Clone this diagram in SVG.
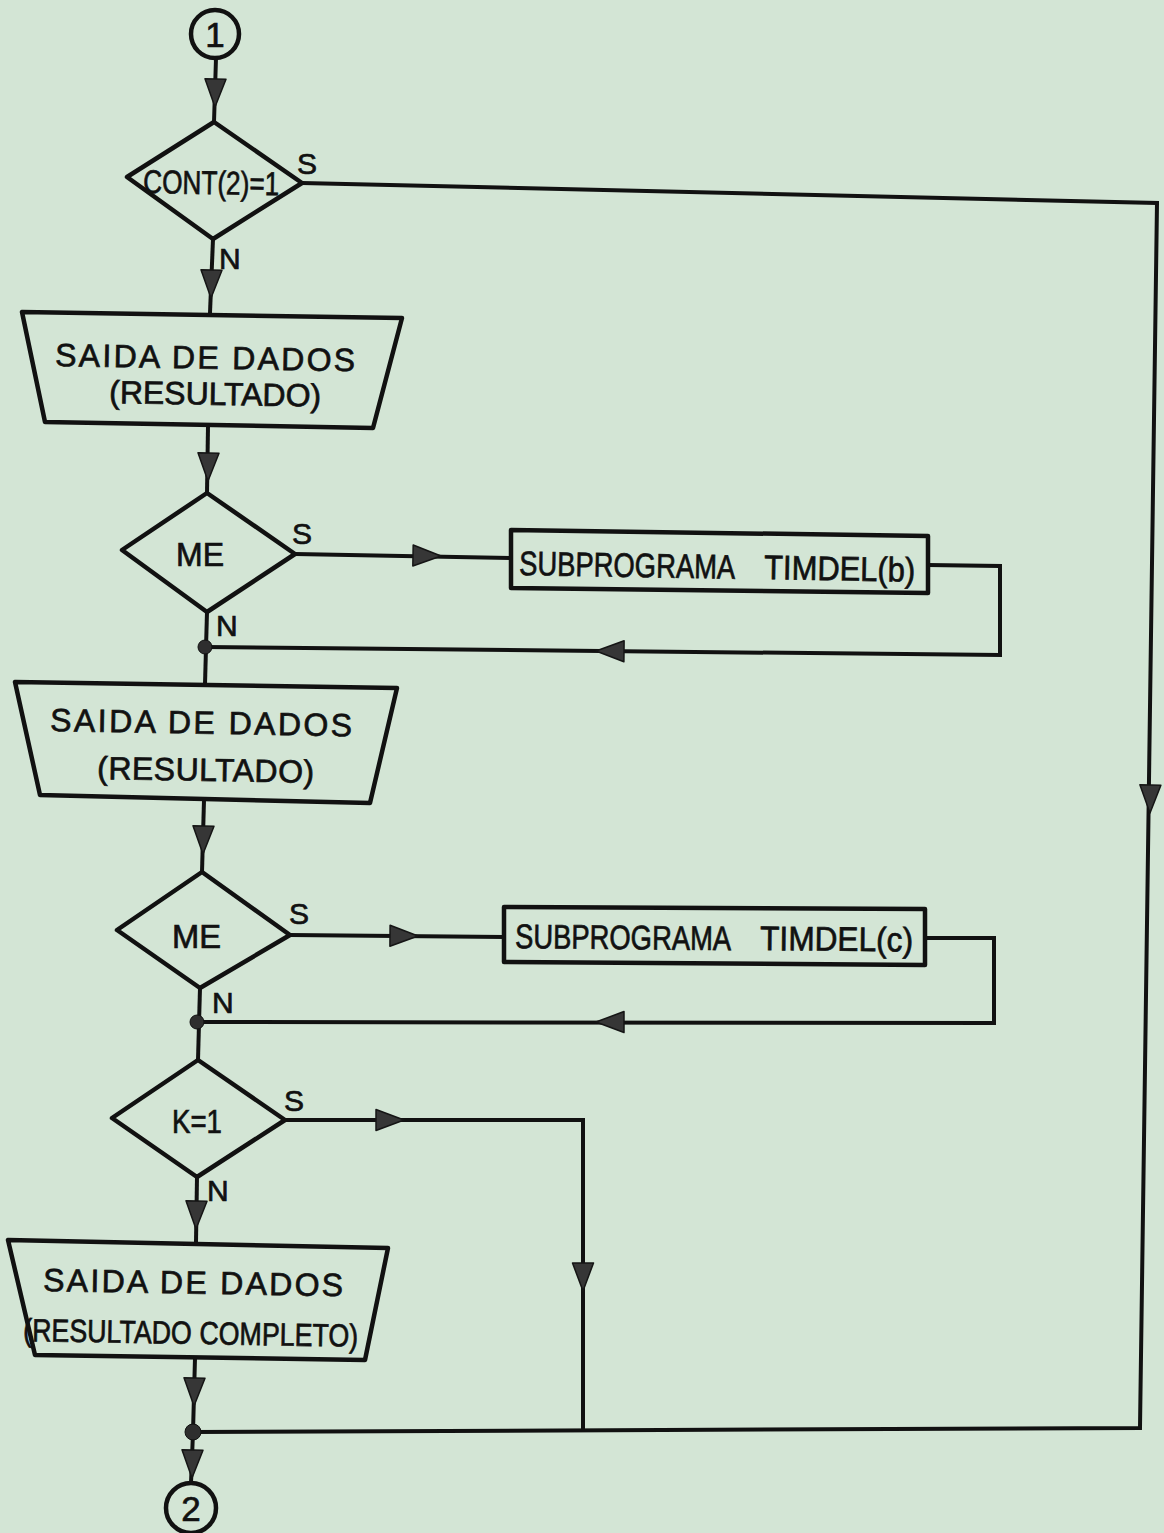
<svg xmlns="http://www.w3.org/2000/svg" xmlns:xlink="http://www.w3.org/1999/xlink" width="1164" height="1533" viewBox="0 0 1164 1533">
  <style>
    .shape { fill: none; stroke: #111; stroke-width: 4.5; stroke-linejoin: round; }
    .wire { fill: none; stroke: #111; stroke-width: 4; stroke-linejoin: miter; }
    .head { fill: #363636; stroke: #151515; stroke-width: 1.5; stroke-linejoin: round; }
    .dot { fill: #2e2e2e; stroke: #111; stroke-width: 1; }
    .txt { font-family: "Liberation Sans", Arial, sans-serif; fill: #111; stroke: #111; stroke-width: 0.7; }
    .big { font-size: 32px; }
    .sub { font-size: 34px; }
    .lbl { font-size: 30px; }
  </style>
  <defs>
    <!-- filled arrowhead, tip at origin, pointing along +x -->
    <path id="ah" class="head" d="M0,0 L-28,-10.5 L-28,10.5 Z"/>
  </defs>

  <rect x="0" y="0" width="1164" height="1533" fill="#d3e5d5"/>

  <!-- connectors -->
  <g id="connectors">
    <path class="wire" d="M216,58 L214,122"/>
    <path class="wire" d="M213,239 L210,313"/>
    <path class="wire" d="M302,183 L1157,203 L1140,1428 L193,1432"/>
    <path class="wire" d="M208,426 L207,493"/>
    <path class="wire" d="M295,554 L511,558"/>
    <path class="wire" d="M928,565 L1000,566 L1000,655 L205,647"/>
    <path class="wire" d="M207,612 L205,684"/>
    <path class="wire" d="M204,800 L202,872"/>
    <path class="wire" d="M290,935 L504,937"/>
    <path class="wire" d="M925,938 L994,938 L994,1023 L197,1022"/>
    <path class="wire" d="M200,988 L198,1060"/>
    <path class="wire" d="M197,1177 L196,1242"/>
    <path class="wire" d="M285,1120 L583,1120 L583,1431"/>
    <path class="wire" d="M195,1358 L193,1432 L191,1483"/>

    <use xlink:href="#ah" transform="translate(215,107) rotate(91)"/>
    <use xlink:href="#ah" transform="translate(211,298) rotate(91)"/>
    <use xlink:href="#ah" transform="translate(208,481) rotate(91)"/>
    <use xlink:href="#ah" transform="translate(441,556) rotate(1)"/>
    <use xlink:href="#ah" transform="translate(596,651) rotate(180.6)"/>
    <use xlink:href="#ah" transform="translate(203,854) rotate(91)"/>
    <use xlink:href="#ah" transform="translate(418,936) rotate(0.5)"/>
    <use xlink:href="#ah" transform="translate(596,1022) rotate(180)"/>
    <use xlink:href="#ah" transform="translate(196,1229) rotate(91)"/>
    <use xlink:href="#ah" transform="translate(404,1120)"/>
    <use xlink:href="#ah" transform="translate(583,1291) rotate(90)"/>
    <use xlink:href="#ah" transform="translate(1150,813) rotate(90.8)"/>
    <use xlink:href="#ah" transform="translate(194,1406) rotate(91)"/>
    <use xlink:href="#ah" transform="translate(192,1478) rotate(91)"/>

    <circle class="dot" cx="205" cy="647" r="7"/>
    <circle class="dot" cx="197" cy="1022" r="7"/>
    <circle class="dot" cx="193" cy="1432" r="8"/>

    <!-- branch labels -->
    <text class="txt lbl" x="297" y="174">S</text>
    <text class="txt lbl" x="219" y="269">N</text>
    <text class="txt lbl" x="292" y="544">S</text>
    <text class="txt lbl" x="216" y="636">N</text>
    <text class="txt lbl" x="289" y="924">S</text>
    <text class="txt lbl" x="212" y="1013">N</text>
    <text class="txt lbl" x="284" y="1111">S</text>
    <text class="txt lbl" x="207" y="1201">N</text>
  </g>

  <!-- connector 1 (entry) -->
  <g id="entry-1">
    <circle class="shape" cx="215" cy="34" r="24"/>
    <text class="txt" x="215" y="47" font-size="35" text-anchor="middle">1</text>
  </g>

  <!-- decision CONT(2)=1 -->
  <g id="dec-cont2">
    <path class="shape" d="M214,122 L302,183 L213,239 L127,177 Z"/>
    <text class="txt" x="143" y="193" font-size="33" textLength="136" lengthAdjust="spacingAndGlyphs" transform="rotate(1 143 193)">CONT(2)=1</text>
  </g>

  <!-- output 1 -->
  <g id="out-1">
    <path class="shape" d="M22,312 L402,318 L373,428 L45,422 Z"/>
    <text class="txt big" x="55" y="366" textLength="300" lengthAdjust="spacing" transform="rotate(1 55 366)">SAIDA DE DADOS</text>
    <text class="txt big" x="109" y="403" textLength="212" lengthAdjust="spacing" transform="rotate(1 109 403)">(RESULTADO)</text>
  </g>

  <!-- decision ME (b) -->
  <g id="dec-me-b">
    <path class="shape" d="M207,493 L295,554 L207,612 L122,550 Z"/>
    <text class="txt" x="176" y="566" font-size="33" textLength="48" lengthAdjust="spacingAndGlyphs">ME</text>
  </g>

  <!-- subprogram TIMDEL(b) -->
  <g id="sub-timdel-b">
    <path class="shape" d="M511,530 L928,536 L928,593 L511,588 Z"/>
    <text class="txt sub" x="519" y="575" textLength="216" lengthAdjust="spacingAndGlyphs" transform="rotate(1 519 575)">SUBPROGRAMA</text>
    <text class="txt sub" x="764" y="579" textLength="151" lengthAdjust="spacingAndGlyphs" transform="rotate(1 764 579)">TIMDEL(b)</text>
  </g>

  <!-- output 2 -->
  <g id="out-2">
    <path class="shape" d="M15,682 L397,688 L370,803 L40,795 Z"/>
    <text class="txt big" x="50" y="731" textLength="302" lengthAdjust="spacing" transform="rotate(1 50 731)">SAIDA DE DADOS</text>
    <text class="txt big" x="97" y="779" textLength="217" lengthAdjust="spacing" transform="rotate(1 97 779)">(RESULTADO)</text>
  </g>

  <!-- decision ME (c) -->
  <g id="dec-me-c">
    <path class="shape" d="M202,872 L290,935 L200,988 L117,930 Z"/>
    <text class="txt" x="172" y="948" font-size="33" textLength="49" lengthAdjust="spacingAndGlyphs">ME</text>
  </g>

  <!-- subprogram TIMDEL(c) -->
  <g id="sub-timdel-c">
    <path class="shape" d="M504,907 L925,909 L925,965 L504,962 Z"/>
    <text class="txt sub" x="515" y="948" textLength="216" lengthAdjust="spacingAndGlyphs" transform="rotate(0.6 515 948)">SUBPROGRAMA</text>
    <text class="txt sub" x="760" y="950" textLength="153" lengthAdjust="spacingAndGlyphs" transform="rotate(0.6 760 950)">TIMDEL(c)</text>
  </g>

  <!-- decision K=1 -->
  <g id="dec-k1">
    <path class="shape" d="M198,1060 L285,1120 L197,1177 L112,1118 Z"/>
    <text class="txt" x="172" y="1133" font-size="33" textLength="50" lengthAdjust="spacingAndGlyphs">K=1</text>
  </g>

  <!-- output 3 -->
  <g id="out-3">
    <path class="shape" d="M8,1240 L388,1248 L365,1360 L35,1355 Z"/>
    <text class="txt big" x="43" y="1291" textLength="300" lengthAdjust="spacing" transform="rotate(1 43 1291)">SAIDA DE DADOS</text>
    <text class="txt big" x="23" y="1341" textLength="335" lengthAdjust="spacingAndGlyphs" transform="rotate(1 23 1341)">(RESULTADO COMPLETO)</text>
  </g>

  <!-- connector 2 (exit) -->
  <g id="exit-2">
    <circle class="shape" cx="191" cy="1508" r="25"/>
    <text class="txt" x="191" y="1521" font-size="35" text-anchor="middle">2</text>
  </g>
</svg>
